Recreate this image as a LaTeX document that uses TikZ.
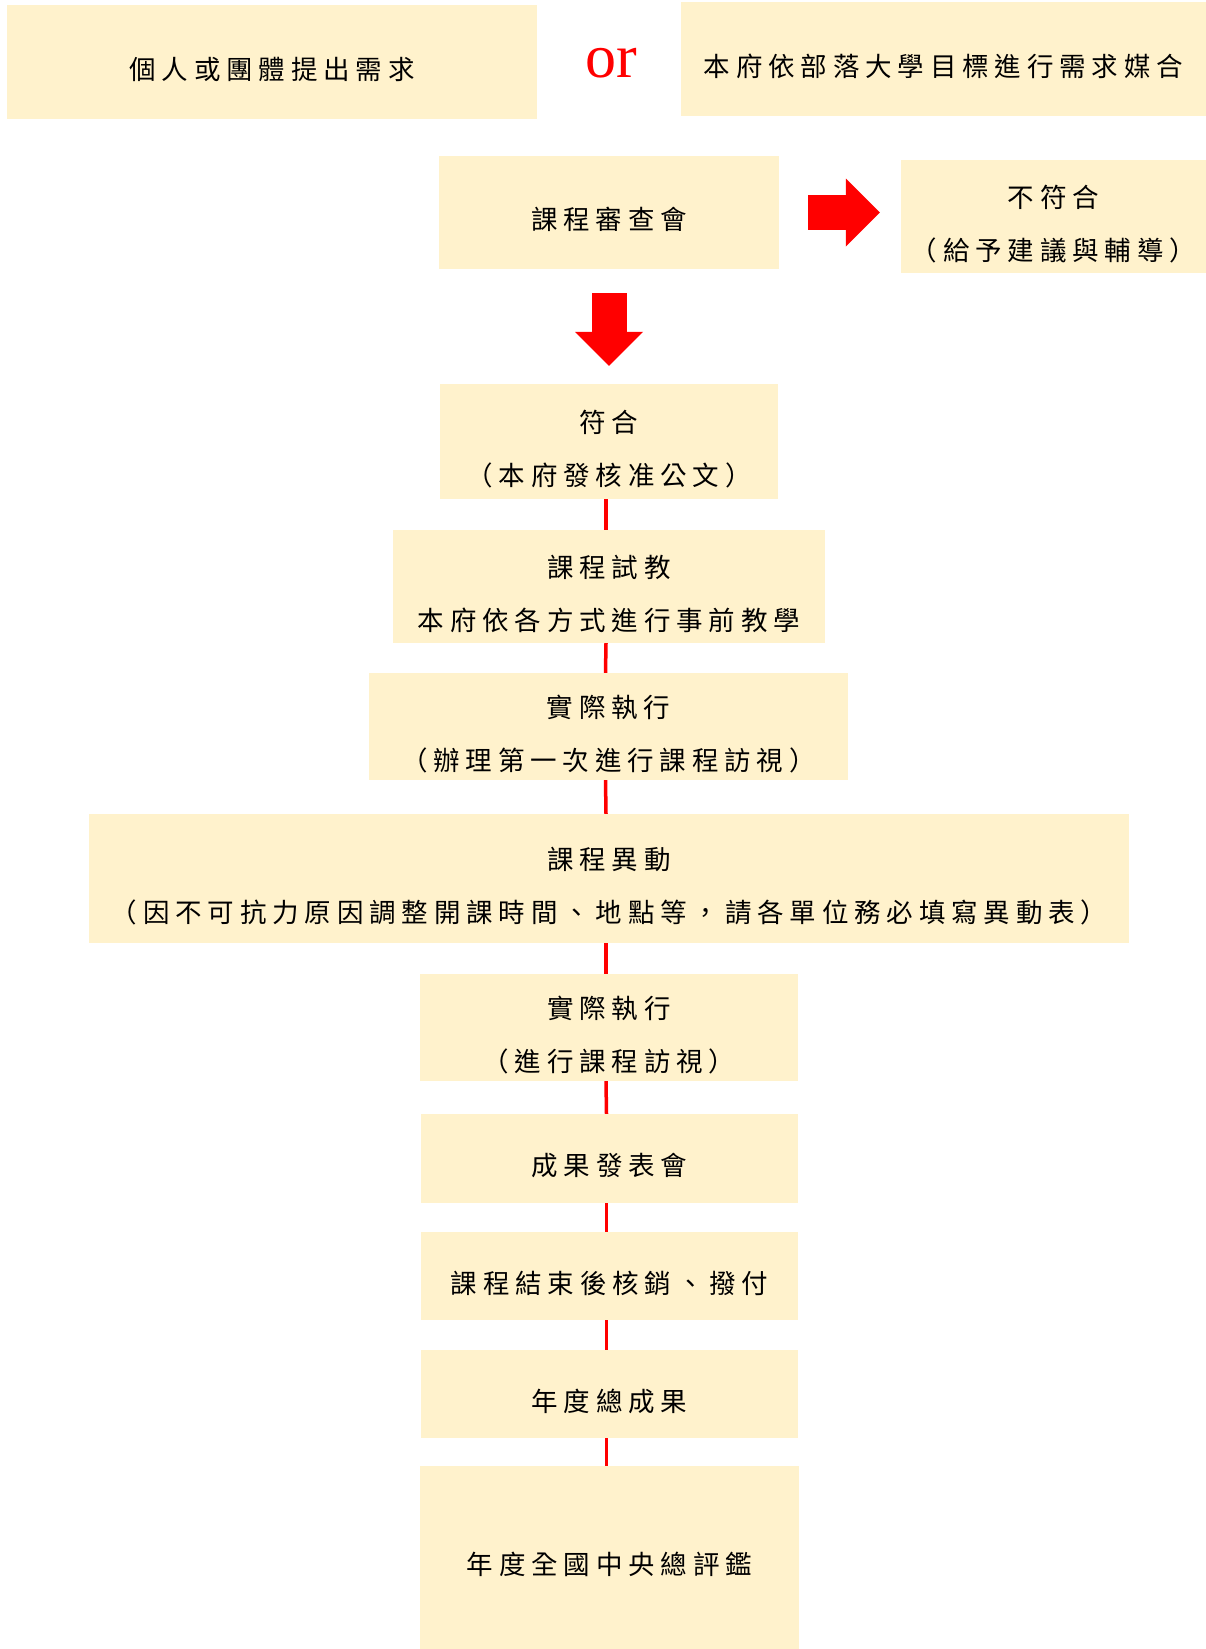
\documentclass[tikz,border=0pt]{standalone}
\usepackage{fontspec}
\usetikzlibrary{arrows.meta}
\newfontfamily\cjk[LetterSpace=22]{Noto Sans CJK TC}
\newfontfamily\orfont{Liberation Serif}
\definecolor{boxfill}{HTML}{FFF2CC}
\definecolor{flowred}{HTML}{FF0000}
\tikzset{
	stage/.style={fill=boxfill,inner sep=0pt,align=center,
		font=\cjk\fontsize{26.5}{53}\selectfont},
	oneline/.style={stage,text height=36pt,text depth=2pt},
	twoline/.style={stage,text height=89pt,text depth=2pt},
	link/.style={draw=flowred,line width=3.5pt},
	blockarrow/.style={draw=flowred,line width=35pt,
		-{Triangle[length=34pt,width=68pt,line width=0pt,fill=flowred]}}
}
\begin{document}
\begin{tikzpicture}[x=1pt,y=-1pt]
	\useasboundingbox (0,0) rectangle (1206,1649);
	\node[oneline,minimum width=530pt,minimum height=114pt] (propose) at (272,62) {個人或團體提出需求};
	\node[anchor=base,text=flowred,font=\orfont\fontsize{62}{62}\selectfont] (or) at (611,77) {or};
	\node[oneline,minimum width=525pt,minimum height=114pt] (match) at (943.5,59) {本府依部落大學目標進行需求媒合};
	\node[oneline,minimum width=340pt,minimum height=113pt] (review) at (609,212.5) {課程審查會};
	\node[twoline,minimum width=305pt,minimum height=113pt] (reject) at (1053.5,216.5) {不符合\\（給予建議與輔導）};
	\node[twoline,minimum width=338pt,minimum height=115pt] (accept) at (609,441.5) {符合\\（本府發核准公文）};
	\node[twoline,minimum width=432pt,minimum height=113pt] (trial) at (609,586.5) {課程試教\\本府依各方式進行事前教學};
	\node[twoline,minimum width=479pt,minimum height=107pt] (run1) at (608.5,726.5) {實際執行\\（辦理第一次進行課程訪視）};
	\node[twoline,minimum width=1040pt,minimum height=129pt] (change) at (609,878.5) {課程異動\\（因不可抗力原因調整開課時間、地點等，請各單位務必填寫異動表）};
	\node[twoline,minimum width=378pt,minimum height=107pt] (run2) at (609,1027.5) {實際執行\\（進行課程訪視）};
	\node[oneline,minimum width=377pt,minimum height=89pt] (show) at (609.5,1158.5) {成果發表會};
	\node[oneline,minimum width=377pt,minimum height=88pt] (close) at (609.5,1276) {課程結束後核銷、撥付};
	\node[oneline,minimum width=377pt,minimum height=88pt] (yearly) at (609.5,1394) {年度總成果};
	\node[oneline,minimum width=379pt,minimum height=183pt] (evaluate) at (609.5,1557.5) {年度全國中央總評鑑};
	% big red arrows
	\draw[blockarrow] ([xshift=29pt]review.east) -- ([xshift=-21pt]reject.west |- review.east);
	\draw[blockarrow] ([yshift=-24pt]review.south) -- ([yshift=18pt]accept.north);
	% thin red links
	\draw[link] ([xshift=-3pt]accept.south) -- ([xshift=-3pt]trial.north);
	\draw[link] ([xshift=-3pt]trial.south) -- ([xshift=-3pt]run1.north);
	\draw[link] ([xshift=-3pt]run1.south) -- ([xshift=-3pt]change.north);
	\draw[link] ([xshift=-3pt]change.south) -- ([xshift=-3pt]run2.north);
	\draw[link] ([xshift=-3pt]run2.south) -- ([xshift=-3pt]show.north);
	\draw[link] ([xshift=-3pt]show.south) -- ([xshift=-3pt]close.north);
	\draw[link] ([xshift=-3pt]close.south) -- ([xshift=-3pt]yearly.north);
	\draw[link] ([xshift=-3pt]yearly.south) -- ([xshift=-3pt]evaluate.north);
\end{tikzpicture}
\end{document}
